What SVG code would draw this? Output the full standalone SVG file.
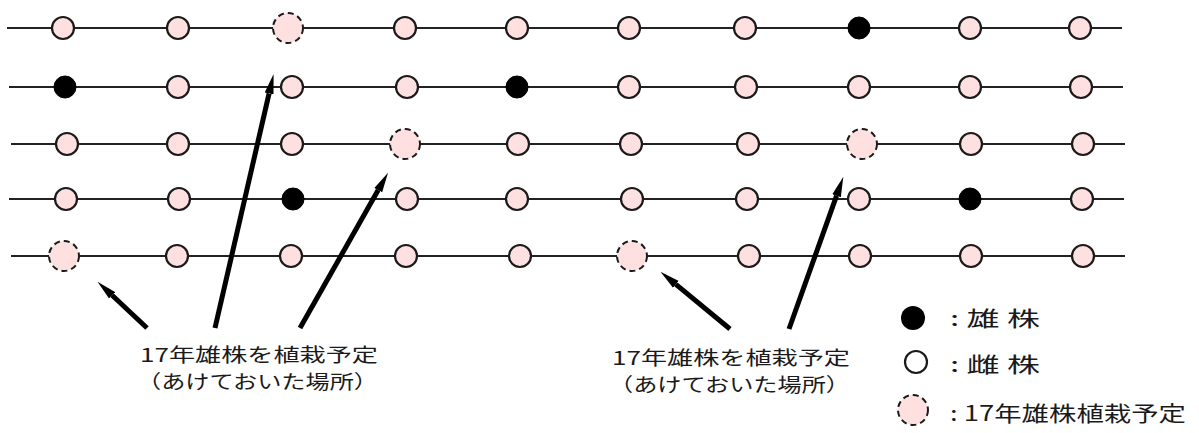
<svg xmlns="http://www.w3.org/2000/svg" width="1199" height="433" viewBox="0 0 1199 433">
<defs>
<marker id="ah" markerUnits="userSpaceOnUse" markerWidth="20" markerHeight="10" viewBox="0 0 20 10" refX="0" refY="5" orient="auto"><path d="M0,0.5 L20,5 L0,9.5 z" fill="#000"/></marker>
</defs>
<style>
.row{stroke:#222;stroke-width:2;fill:none}
.f{fill:#ffe0e0;stroke:#1a1a1a;stroke-width:2.2}
.m{fill:#000;stroke:#000;stroke-width:1}
.p{fill:#ffe0e0;stroke:#1a1a1a;stroke-width:2;stroke-dasharray:6 4}
.arr{stroke:#000;stroke-width:5;fill:none;marker-end:url(#ah)}
text{font-family:"Noto Sans CJK JP","Liberation Serif",sans-serif;font-size:21px;fill:#1a1a1a}
.lb{font-size:19px}
</style>
<rect width="1199" height="433" fill="#fff"/>
<g id="rows">
<line class="row" x1="7" y1="28" x2="1122" y2="28"/>
<line class="row" x1="9" y1="87" x2="1123" y2="87"/>
<line class="row" x1="11" y1="144" x2="1125" y2="144"/>
<line class="row" x1="9" y1="199" x2="1124" y2="199"/>
<line class="row" x1="11" y1="256" x2="1125" y2="256"/>
</g>
<g id="row1">
<circle class="f" cx="63" cy="28" r="11"/><circle class="f" cx="178" cy="28" r="11"/><circle class="p" cx="288" cy="28" r="15"/><circle class="f" cx="405" cy="28" r="11"/><circle class="f" cx="517" cy="28" r="11"/><circle class="f" cx="629" cy="28" r="11"/><circle class="f" cx="745" cy="28" r="11"/><circle class="m" cx="859" cy="28" r="11"/><circle class="f" cx="970" cy="28" r="11"/><circle class="f" cx="1080" cy="28" r="11"/>
</g>
<g id="row2">
<circle class="m" cx="65" cy="87" r="11"/><circle class="f" cx="178" cy="87" r="11"/><circle class="f" cx="292" cy="87" r="11"/><circle class="f" cx="407" cy="87" r="11"/><circle class="m" cx="517" cy="87" r="11"/><circle class="f" cx="629" cy="87" r="11"/><circle class="f" cx="746" cy="87" r="11"/><circle class="f" cx="859" cy="87" r="11"/><circle class="f" cx="970" cy="87" r="11"/><circle class="f" cx="1081" cy="87" r="11"/>
</g>
<g id="row3">
<circle class="f" cx="67" cy="144" r="11"/><circle class="f" cx="178" cy="144" r="11"/><circle class="f" cx="292" cy="144" r="11"/><circle class="p" cx="405" cy="144" r="15"/><circle class="f" cx="518" cy="144" r="11"/><circle class="f" cx="631" cy="144" r="11"/><circle class="f" cx="748" cy="144" r="11"/><circle class="p" cx="862" cy="144" r="15"/><circle class="f" cx="971" cy="144" r="11"/><circle class="f" cx="1083" cy="144" r="11"/>
</g>
<g id="row4">
<circle class="f" cx="66" cy="199" r="11"/><circle class="f" cx="179" cy="199" r="11"/><circle class="m" cx="293" cy="199" r="11"/><circle class="f" cx="407" cy="199" r="11"/><circle class="f" cx="517" cy="199" r="11"/><circle class="f" cx="632" cy="199" r="11"/><circle class="f" cx="747" cy="199" r="11"/><circle class="f" cx="859" cy="199" r="11"/><circle class="m" cx="970" cy="199" r="11"/><circle class="f" cx="1082" cy="199" r="11"/>
</g>
<g id="row5">
<circle class="p" cx="64" cy="256" r="15"/><circle class="f" cx="177" cy="256" r="11"/><circle class="f" cx="291" cy="256" r="11"/><circle class="f" cx="406" cy="256" r="11"/><circle class="f" cx="520" cy="256" r="11"/><circle class="p" cx="632" cy="256" r="15"/><circle class="f" cx="749" cy="256" r="11"/><circle class="f" cx="860" cy="256" r="11"/><circle class="f" cx="971" cy="256" r="11"/><circle class="f" cx="1083" cy="256" r="11"/>
</g>
<g id="connectors">
<line class="arr" x1="147" y1="328" x2="112.1" y2="295.3"/>
<line class="arr" x1="215" y1="328" x2="269.1" y2="93.4"/>
<line class="arr" x1="300" y1="328" x2="378.2" y2="190.1"/>
<line class="arr" x1="730" y1="329" x2="675.9" y2="284.4"/>
<line class="arr" x1="789" y1="329" x2="836.6" y2="195.7"/>
</g>
<g id="label1">
<text class="lb" x="140" y="362" textLength="238" lengthAdjust="spacingAndGlyphs">17年雄株を植栽予定</text>
<text class="lb" x="137" y="389" textLength="241" lengthAdjust="spacingAndGlyphs">（あけておいた場所）</text>
</g>
<g id="label2">
<text class="lb" x="612" y="365" textLength="238" lengthAdjust="spacingAndGlyphs">17年雄株を植栽予定</text>
<text class="lb" x="609" y="392" textLength="241" lengthAdjust="spacingAndGlyphs">（あけておいた場所）</text>
</g>
<g id="legend">
<circle cx="913" cy="318" r="12" fill="#000"/>
<text x="950" y="326" textLength="90" lengthAdjust="spacingAndGlyphs">: 雄 株</text>
<circle cx="916" cy="362" r="11" fill="#fff" stroke="#1a1a1a" stroke-width="2.2"/>
<text x="950" y="372" textLength="90" lengthAdjust="spacingAndGlyphs">: 雌 株</text>
<circle class="p" cx="913" cy="410" r="15"/>
<text x="950" y="421" textLength="236" lengthAdjust="spacingAndGlyphs">: 17年雄株植栽予定</text>
</g>
</svg>
